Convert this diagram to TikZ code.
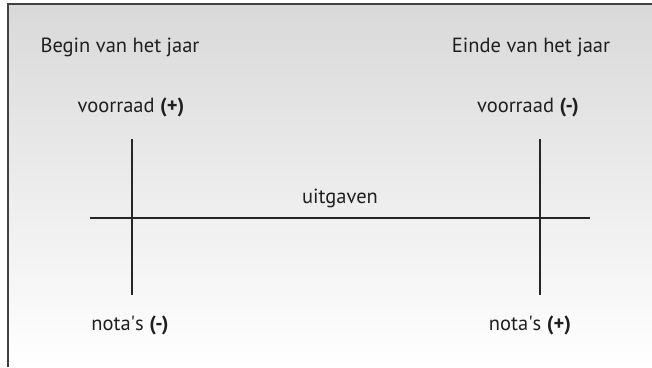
\documentclass[tikz,border=0pt]{standalone}
\usepackage{fontspec}
\setmainfont{PT Sans}
\begin{document}
\begin{tikzpicture}[x=1pt,y=-1pt,
  lbl/.style={inner sep=0pt, text=black!88, font=\fontsize{20.5}{24}\selectfont},
  axis/.style={line width=1.4pt, draw=black!85}]
% page area and shaded background
\useasboundingbox (0,0) rectangle (652,367);
\shade[top color=black!15, bottom color=white] (8,4) rectangle (652,367);
\draw[line width=1.6pt, draw=black!75] (8,367) -- (8,4) -- (652,4);
% headings
\node[lbl] (begin) at (120,47) {Begin van het jaar};
\node[lbl] (einde) at (531,47) {Einde van het jaar};
\node[lbl] (vl) at (131,107) {voorraad \textbf{(+)}};
\node[lbl] (vr) at (528,107) {voorraad \textbf{(-)}};
\node[lbl] (nl) at (130,325) {nota\textquotesingle s \textbf{(-)}};
\node[lbl] (nr) at (530,325) {nota\textquotesingle s \textbf{(+)}};
\node[lbl] (uit) at (340,198) {uitgaven};
% lines
\coordinate (lt) at (132,139); \coordinate (lb) at (132,295);
\coordinate (rt) at (540,139); \coordinate (rb) at (540,295);
\coordinate (hl) at (90,218); \coordinate (hr) at (590,218);
\draw[axis] (lt) -- (lb);
\draw[axis] (rt) -- (rb);
\draw[axis] (hl) -- (hr);
\end{tikzpicture}
\end{document}
